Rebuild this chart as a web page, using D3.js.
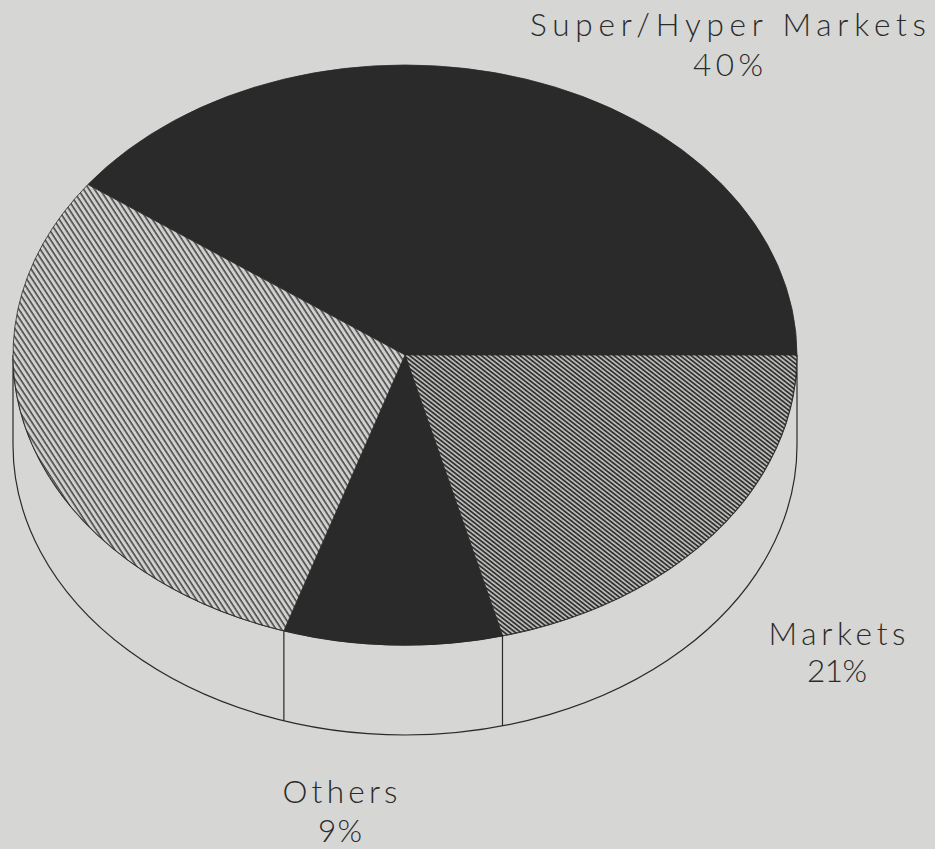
<!DOCTYPE html>
<html>
<head>
<meta charset="utf-8">
<script src="https://cdn.jsdelivr.net/npm/d3@7"></script>
<style>
  html, body { margin: 0; padding: 0; background: #d6d6d4; }
  svg { display: block; }
</style>
</head>
<body>
<script>
// ---- data ----
const categories = ["Super/Hyper Markets", "Markets", "Others", ""];
const values = [40, 21, 9, 30];
const fills = ["solid", "hatchDense", "solid", "hatchLight"];

// ---- layout ----
const W = 935, H = 849;
const cx = 405, cy = 355, rx = 392, ry = 290, depth = 90;
const bg = "#d6d6d4", ink = "#2b2a2a";

const svg = d3.select("body").append("svg").attr("width", W).attr("height", H);
svg.append("rect").attr("width", W).attr("height", H).attr("fill", bg);

const defs = svg.append("defs");
function hatch(id, period, lineW, angle, light, dark) {
  const p = defs.append("pattern").attr("id", id)
    .attr("patternUnits", "userSpaceOnUse")
    .attr("width", 10).attr("height", period)
    .attr("patternTransform", `rotate(${angle})`);
  p.append("rect").attr("width", 10).attr("height", period).attr("fill", light);
  p.append("rect").attr("width", 10).attr("height", lineW).attr("fill", dark);
}
hatch("hatchDense", 3.4, 1.8, 38, "#c2c2c0", "#333333");
hatch("hatchLight", 4.6, 1.6, 57, "#d0d0ce", "#4a4a4a");

const fillFor = f => f === "solid" ? ink : `url(#${f})`;

const pie = d3.pie().sort(null).value(d => d)
  .startAngle(-0.3 * Math.PI).endAngle(1.7 * Math.PI);
const arcs = pie(values);

// point on top ellipse for d3 angle (clockwise from 12 o'clock)
const pt = (a, dy = 0) => [cx + rx * Math.sin(a), cy - ry * Math.cos(a) + dy];

// ---- side wall (front half) ----
const R = pt(Math.PI / 2), L = pt(3 * Math.PI / 2);
const sidePath = `M${R[0]},${R[1]} A${rx},${ry} 0 0 1 ${L[0]},${L[1]}
  L${L[0]},${L[1] + depth} A${rx},${ry} 0 0 0 ${R[0]},${R[1] + depth} Z`;
svg.append("path").attr("d", sidePath)
  .attr("fill", bg).attr("stroke", ink).attr("stroke-width", 1.2);

// vertical edges at slice boundaries on the visible front
const bounds = arcs.map(a => a.startAngle);
bounds.forEach(a => {
  const aa = ((a % (2 * Math.PI)) + 2 * Math.PI) % (2 * Math.PI);
  if (aa > Math.PI / 2 + 1e-3 && aa < 3 * Math.PI / 2 - 1e-3) {
    const p = pt(aa);
    svg.append("line").attr("x1", p[0]).attr("y1", p[1])
      .attr("x2", p[0]).attr("y2", p[1] + depth)
      .attr("stroke", ink).attr("stroke-width", 1.2);
  }
});

// ---- top slices ----
svg.append("g").selectAll("path").data(arcs).join("path")
  .attr("d", d => {
    const p0 = pt(d.startAngle), p1 = pt(d.endAngle);
    const large = (d.endAngle - d.startAngle) > Math.PI ? 1 : 0;
    return `M${cx},${cy} L${p0[0]},${p0[1]} A${rx},${ry} 0 ${large} 1 ${p1[0]},${p1[1]} Z`;
  })
  .attr("fill", (d, i) => fillFor(fills[i]))
  .attr("stroke", ink).attr("stroke-width", 0.8).attr("stroke-linejoin", "round");

// ---- labels ----
const labelLayout = {
  "Super/Hyper Markets": { x: 728, y1: 36, y2: 76, w1: 396, w2: 70 },
  "Markets": { x: 837, y1: 645, y2: 682, w1: 137, w2: 60 },
  "Others": { x: 340, y1: 803, y2: 842, w1: 115, w2: 44 }
};
const lg = svg.append("g")
  .attr("font-family", "Lato, 'Open Sans', 'Liberation Sans', sans-serif")
  .attr("font-weight", 300).attr("font-size", 31.5)
  .attr("fill", "#2a2a2a").attr("text-anchor", "middle");
categories.forEach((c, i) => {
  if (!c) return;
  const l = labelLayout[c];
  lg.append("text").attr("x", l.x).attr("y", l.y1)
    .attr("textLength", l.w1).attr("lengthAdjust", "spacing").text(c);
  lg.append("text").attr("x", l.x).attr("y", l.y2)
    .attr("textLength", l.w2).attr("lengthAdjust", "spacing").text(values[i] + "%");
});
</script>
</body>
</html>
